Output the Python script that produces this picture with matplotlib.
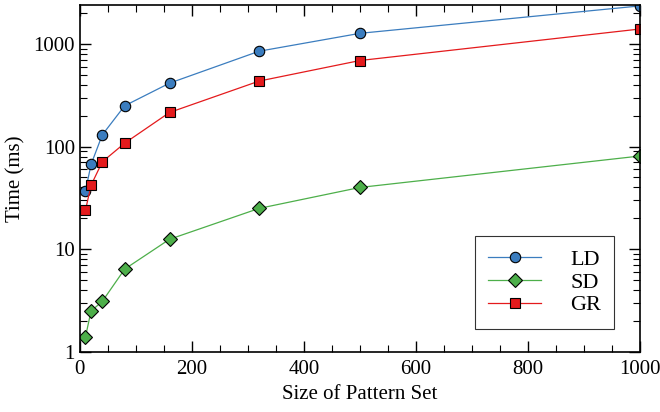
import matplotlib
matplotlib.use("Agg")
import matplotlib.pyplot as plt
from matplotlib.ticker import MultipleLocator, LogLocator, FixedLocator, NullFormatter

plt.rcParams['font.family'] = ['Liberation Serif', 'DejaVu Serif']

#Pattern set sizes and run times (ms).
sizes = [10, 20, 40, 80, 160, 320, 500, 1000]
ld = [37, 67, 130, 250, 415, 850, 1270, 2350]
sd = [1.4, 2.5, 3.1, 6.4, 12.5, 25, 40, 81]
gr = [24, 42, 71, 108, 215, 435, 690, 1400]

fig = plt.figure(figsize=(6.6, 4.12), dpi=100)
ax = fig.add_axes([0.121, 0.146, 0.849, 0.842])

ax.plot(sizes, ld, color="#3b7dbf", lw=0.9, marker="o", ms=7.5, mfc="#3b7dbf", mec="black", mew=0.8, label="LD")
ax.plot(sizes, sd, color="#4daf4a", lw=0.9, marker="D", ms=7, mfc="#4daf4a", mec="black", mew=0.8, label="SD")
ax.plot(sizes, gr, color="#e41a1c", lw=0.9, marker="s", ms=7.5, mfc="#e41a1c", mec="black", mew=0.8, label="GR")

ax.set_yscale("log")
ax.set_xlim(0, 1000)
ax.set_ylim(1, 2400)
ax.xaxis.set_major_locator(FixedLocator([0, 200, 400, 600, 800, 1000]))
ax.xaxis.set_minor_locator(MultipleLocator(50))
ax.yaxis.set_minor_locator(LogLocator(base=10, subs=range(2, 10), numticks=10))
ax.yaxis.set_minor_formatter(NullFormatter())
ax.set_yticks([1, 10, 100, 1000])
ax.set_yticklabels(["1", "10", "100", "1000"])

ax.tick_params(which="both", direction="in", top=True, right=True, labelsize=15)
ax.tick_params(which="major", length=8, width=1)
ax.tick_params(which="minor", length=5, width=0.8)
ax.tick_params(axis="x", pad=6)
for s in ax.spines.values():
    s.set_linewidth(1.2)

ax.set_xlabel("Size of Pattern Set", fontsize=15, labelpad=4)
ax.set_ylabel("Time (ms)", fontsize=15, labelpad=6)

leg = ax.legend(loc="lower right", bbox_to_anchor=(0.962, 0.054), fontsize=16, frameon=True,
                fancybox=False, edgecolor="black", handlelength=2.4, borderpad=0.6,
                labelspacing=0.1, handletextpad=1.3, borderaxespad=0.2)
leg.get_frame().set_linewidth(0.8)

plt.savefig("out.png", dpi=100)
